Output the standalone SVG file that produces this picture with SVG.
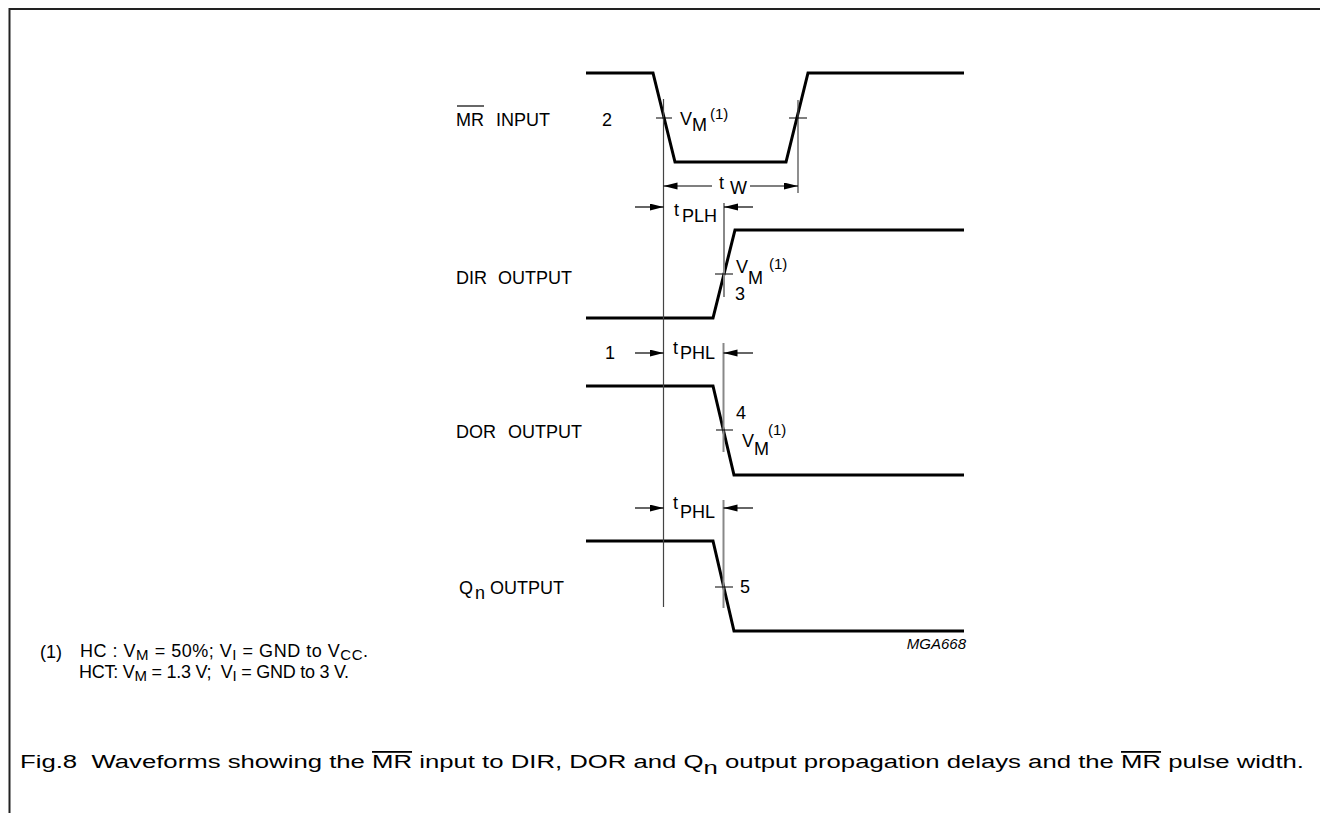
<svg xmlns="http://www.w3.org/2000/svg" width="1320" height="813" viewBox="0 0 1320 813">
<style>
text{font-family:"Liberation Sans",Arial,sans-serif;fill:#000;font-size:18px}
.sup{font-size:15px}
.sub{font-size:15px}
.small{font-size:15px;font-style:italic}
.wave{fill:none;stroke:#000;stroke-width:3}
.ref{fill:none;stroke:#444;stroke-width:1.2}
.grey{fill:none;stroke:#888;stroke-width:2}
.tick{fill:none;stroke:#000;stroke-width:1.2}
.arr{fill:none;stroke:#000;stroke-width:1.2;marker-end:url(#ah)}
</style>
<defs>
<marker id="ah" markerUnits="userSpaceOnUse" markerWidth="15" markerHeight="8" refX="14" refY="3.5" orient="auto">
<path d="M0,0 L14,3.5 L0,7 z" fill="#000"/>
</marker>
</defs>
<rect width="1320" height="813" fill="#fff"/>
<path d="M9.5,813 V9 H1320" fill="none" stroke="#222" stroke-width="2"/>

<g id="labels">
<text x="456" y="126">MR</text>
<line x1="457" y1="106" x2="484" y2="106" stroke="#000" stroke-width="1.2"/>
<text x="496" y="126">INPUT</text>
<text x="456" y="284">DIR</text><text x="498" y="284">OUTPUT</text>
<text x="456" y="438">DOR</text><text x="508" y="438">OUTPUT</text>
<text x="459" y="594">Q</text><text x="475" y="599">n</text><text x="490" y="594">OUTPUT</text>
</g>

<g id="mr-input">
<path class="wave" d="M586,73 H653 L675,162 H786 L808,73 H964"/>
<text x="602" y="126">2</text>
<text x="680" y="125">V</text><text x="692" y="131">M</text><text class="sup" x="710" y="119">(1)</text>
</g>

<g id="dir-output">
<path class="wave" d="M586,318 H713 L735,230 H964"/>
<text x="674" y="216">t</text><text x="682" y="222">PLH</text>
<text x="736" y="273">V</text><text x="748" y="284">M</text><text class="sup" x="769" y="269">(1)</text>
<text x="735" y="300">3</text>
</g>

<g id="dor-output">
<path class="wave" d="M586,386 H713 L734,475 H964"/>
<text x="605" y="359">1</text>
<text x="673" y="354">t</text><text x="680" y="359">PHL</text>
<text x="736" y="419">4</text>
<text x="742" y="447">V</text><text x="754" y="455">M</text><text class="sup" x="768" y="435">(1)</text>
</g>

<g id="qn-output">
<path class="wave" d="M586,541 H713 L734,631 H964"/>
<text x="673" y="509">t</text><text x="680" y="518">PHL</text>
<text x="740" y="593">5</text>
</g>

<g id="connectors">
<line class="ref" x1="663.5" y1="99" x2="663.5" y2="607"/>
<line class="ref" x1="798" y1="100" x2="798" y2="193"/>
<line class="grey" x1="724" y1="203" x2="724" y2="297"/>
<line class="grey" x1="723.5" y1="343" x2="723.5" y2="452"/>
<line class="grey" x1="723.5" y1="500" x2="723.5" y2="608"/>
<path class="tick" d="M656,118 H672 M789,118 H807 M715,274 H733 M716,430 H733 M715,587 H733"/>
<path class="arr" d="M712,186 H663.5"/>
<path class="arr" d="M750,186 H798"/>
<text x="719" y="189">t</text><text x="730" y="194">W</text>
<path class="arr" d="M635,207 H663.5"/>
<path class="arr" d="M753,207 H724"/>
<path class="arr" d="M635,353 H663.5"/>
<path class="arr" d="M753,353 H723.5"/>
<path class="arr" d="M635,508 H663.5"/>
<path class="arr" d="M753,508 H723.5"/>
</g>

<text class="small" x="966" y="649" text-anchor="end">MGA668</text>

<g id="footnote">
<text x="40" y="658">(1)</text>
<text x="80" y="657" textLength="288" lengthAdjust="spacing" xml:space="preserve">HC : V<tspan class="sub" dy="3">M</tspan><tspan dy="-3"> = 50%; V</tspan><tspan class="sub" dy="3">I</tspan><tspan dy="-3"> = GND to V</tspan><tspan class="sub" dy="3">CC</tspan><tspan dy="-3">.</tspan></text>
<text x="79" y="678" textLength="270" lengthAdjust="spacing" xml:space="preserve">HCT: V<tspan class="sub" dy="3">M</tspan><tspan dy="-3"> = 1.3 V;  V</tspan><tspan class="sub" dy="3">I</tspan><tspan dy="-3"> = GND to 3 V.</tspan></text>
</g>

<g id="caption">
<text x="20" y="768" font-size="28" textLength="1284" lengthAdjust="spacingAndGlyphs" xml:space="preserve">Fig.8  Waveforms showing the <tspan text-decoration="overline">MR</tspan> input to DIR, DOR and Q<tspan dy="6">n</tspan><tspan dy="-6"> output propagation delays and the </tspan><tspan text-decoration="overline">MR</tspan> pulse width.</text>
</g>
</svg>
